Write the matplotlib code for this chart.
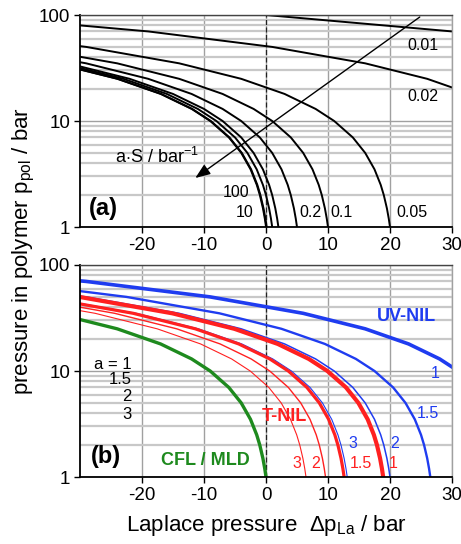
import matplotlib
matplotlib.use("Agg")
import matplotlib.pyplot as plt
from matplotlib.ticker import FixedLocator, FixedFormatter, NullFormatter, LogLocator

plt.rcParams['font.family'] = ['Liberation Sans', 'DejaVu Sans']
plt.rcParams['mathtext.fontset'] = 'custom'
plt.rcParams['mathtext.rm'] = 'Liberation Sans'
plt.rcParams['mathtext.it'] = 'Liberation Sans:italic'
plt.rcParams['axes.unicode_minus'] = False

# ---------------- data ----------------
X_TICKS = [-20, -10, 0, 10, 20, 30]
Y_TICKS = [1, 10, 100]
Y_TICK_LABELS = ["1", "10", "100"]

# panel (a): curves for a.S / bar^-1
A_LABELS = ["0.01", "0.02", "0.05", "0.1", "0.2", "0.5", "1", "10", "100"]
A_DP = [
    [-30, 0, 30],
    [-49, -19, 1, 16, 26, 33],
    [-49, -29, -14, -4, 3, 8, 11, 14, 16, 17.5, 18.5, 19, 19.5, 19.8, 20],
    [-39, -24, -14, -7, -2, 1, 4, 6, 7.5, 8.5, 9, 9.5, 9.8, 10],
    [-44, -29, -19, -12, -7, -4, -1, 1, 2.5, 3.5, 4, 4.5, 4.8, 5],
    [-47, -32, -22, -15, -10, -7, -4, -2, -0.5, 0.5, 1, 1.5, 1.8, 2],
    [-48, -33, -23, -16, -11, -8, -5, -3, -1.5, -0.5, 0, 0.5, 0.8, 1],
    [-48.9, -33.9, -23.9, -16.9, -11.9, -8.9, -5.9, -3.9, -2.4, -1.4, -0.9, -0.4, -0.1, 0.1],
    [-48.99, -33.99, -23.99, -16.99, -11.99, -8.99, -5.99, -3.99, -2.49, -1.49, -0.99, -0.49, -0.19, 0.01],
]
A_P = [
    [130, 100, 70],
    [100, 70, 50, 35, 25, 18],
    [70, 50, 35, 25, 18, 13, 10, 7, 5, 3.5, 2.5, 2, 1.5, 1.2, 1],
    [50, 35, 25, 18, 13, 10, 7, 5, 3.5, 2.5, 2, 1.5, 1.2, 1],
    [50, 35, 25, 18, 13, 10, 7, 5, 3.5, 2.5, 2, 1.5, 1.2, 1],
    [50, 35, 25, 18, 13, 10, 7, 5, 3.5, 2.5, 2, 1.5, 1.2, 1],
    [50, 35, 25, 18, 13, 10, 7, 5, 3.5, 2.5, 2, 1.5, 1.2, 1],
    [50, 35, 25, 18, 13, 10, 7, 5, 3.5, 2.5, 2, 1.5, 1.2, 1],
    [50, 35, 25, 18, 13, 10, 7, 5, 3.5, 2.5, 2, 1.5, 1.2, 1],
]

# panel (b): CFL / MLD
CFL_DP = [-49, -34, -24, -17, -12, -9, -6, -4, -2.5, -1.5, -1, -0.5, -0.2, 0]
CFL_P = [50, 35, 25, 18, 13, 10, 7, 5, 3.5, 2.5, 2, 1.5, 1.2, 1]

# panel (b): UV-NIL, a = 1, 1.5, 2, 3
A_VALUES = ["1", "1.5", "2", "3"]
UV_DP = [
    [-59, -29, -9, 6, 16, 23, 28, 31],
    [-42.5, -22.5, -7.5, 2.5, 9.5, 14.5, 17.5, 20.5, 22.5, 24, 25, 25.5, 26, 26.3, 26.5],
    [-49, -29, -14, -4, 3, 8, 11, 14, 16, 17.5, 18.5, 19, 19.5, 19.8, 20],
    [-35.9, -20.9, -10.9, -3.9, 1.1, 4.1, 7.1, 9.1, 10.6, 11.6, 12.1, 12.6, 12.9, 13.1],
]
UV_P = [
    [100, 70, 50, 35, 25, 18, 13, 10],
    [70, 50, 35, 25, 18, 13, 10, 7, 5, 3.5, 2.5, 2, 1.5, 1.2, 1],
    [70, 50, 35, 25, 18, 13, 10, 7, 5, 3.5, 2.5, 2, 1.5, 1.2, 1],
    [50, 35, 25, 18, 13, 10, 7, 5, 3.5, 2.5, 2, 1.5, 1.2, 1],
]

# panel (b): T-NIL, a = 1, 1.5, 2, 3
TNIL_DP = [
    [-50.1, -30.1, -15.1, -5.1, 1.9, 6.9, 9.9, 12.9, 14.9, 16.4, 17.4, 17.9, 18.4, 18.7, 18.9],
    [-36.4, -21.4, -11.4, -4.4, 0.6, 3.6, 6.6, 8.6, 10.1, 11.1, 11.6, 12.1, 12.4, 12.6],
    [-39.4, -24.4, -14.4, -7.4, -2.4, 0.6, 3.6, 5.6, 7.1, 8.1, 8.6, 9.1, 9.4, 9.6],
    [-42.55, -27.55, -17.55, -10.55, -5.55, -2.55, 0.45, 2.45, 3.95, 4.95, 5.45, 5.95, 6.25, 6.45],
]
TNIL_P = [
    [70, 50, 35, 25, 18, 13, 10, 7, 5, 3.5, 2.5, 2, 1.5, 1.2, 1],
    [50, 35, 25, 18, 13, 10, 7, 5, 3.5, 2.5, 2, 1.5, 1.2, 1],
    [50, 35, 25, 18, 13, 10, 7, 5, 3.5, 2.5, 2, 1.5, 1.2, 1],
    [50, 35, 25, 18, 13, 10, 7, 5, 3.5, 2.5, 2, 1.5, 1.2, 1],
]

# ---------------- styles ----------------
BLUE = '#1f3cf0'
RED = '#ff2020'
GREEN = '#1e8a1e'
UV_LW = [2.6, 1.7, 1.1, 0.8]
TNIL_LW = [3.0, 2.3, 1.0, 0.8]

fig = plt.figure(figsize=(4.61, 5.44), dpi=100)
ax_a = fig.add_axes([80 / 461, 1 - 227 / 544, 372 / 461, 212 / 544])
ax_b = fig.add_axes([80 / 461, 1 - 477 / 544, 372 / 461, 212 / 544])


def style_axes(ax):
    ax.set_yscale('log')
    ax.set_xlim(-30, 30)
    ax.set_ylim(1, 100)
    ax.set_axisbelow(True)
    ax.xaxis.set_major_locator(FixedLocator(X_TICKS))
    ax.yaxis.set_major_locator(FixedLocator(Y_TICKS))
    ax.yaxis.set_major_formatter(FixedFormatter(Y_TICK_LABELS))
    ax.yaxis.set_minor_locator(LogLocator(base=10, subs=[2, 3, 4, 5, 6, 7, 8, 9]))
    ax.yaxis.set_minor_formatter(NullFormatter())
    ax.tick_params(which='major', direction='out', length=4, width=1,
                   labelsize=13.5, color='black', pad=3)
    ax.tick_params(which='minor', length=0)
    ax.grid(which='minor', axis='y', color='#c8c8c8', lw=1.6)
    ax.grid(which='major', axis='y', color='#a0a0a0', lw=1.0)
    ax.grid(which='major', axis='x', color='#a0a0a0', lw=1.0)
    ax.axvline(0, color='#222222', lw=0.9, ls=(0, (4, 2)), zorder=1.5)
    for s in ['left', 'bottom']:
        ax.spines[s].set_color('black')
        ax.spines[s].set_linewidth(1.3)
    ax.spines['top'].set_color('#444444')
    ax.spines['top'].set_linewidth(1.0)
    ax.spines['right'].set_color('#a0a0a0')
    ax.spines['right'].set_linewidth(1.0)


style_axes(ax_a)
style_axes(ax_b)

# ---- panel (a)
for dp, p in zip(A_DP, A_P):
    ax_a.plot(dp, p, color='black', lw=1.4, solid_capstyle='butt')

txt = dict(fontsize=11.5, color='black', ha='center', va='center')
ax_a.text(25.3, 52, A_LABELS[0], **txt)
ax_a.text(25.3, 17.2, A_LABELS[1], **txt)
ax_a.text(23.5, 1.36, A_LABELS[2], **txt)
ax_a.text(12.1, 1.36, A_LABELS[3], **txt)
ax_a.text(7.1, 1.36, A_LABELS[4], **txt)
ax_a.text(-3.5, 1.36, A_LABELS[7], **txt)
ax_a.text(-4.9, 2.11, A_LABELS[8], **txt)
ax_a.text(-24.4, 4.57, r'a$\cdot$S / bar$^{\mathrm{-1}}$', fontsize=13,
          ha='left', va='center')
ax_a.text(-26.3, 1.5, '(a)', fontsize=17, fontweight='bold', ha='center', va='center')
ax_a.annotate('', xy=(-11.4, 2.9), xytext=(24.8, 95.7),
              arrowprops=dict(arrowstyle='-|>,head_length=0.9,head_width=0.35',
                              color='black', lw=1.0, shrinkA=0, shrinkB=0))

# ---- panel (b)
for dp, p, lw in zip(UV_DP, UV_P, UV_LW):
    ax_b.plot(dp, p, color=BLUE, lw=lw)
for dp, p, lw in zip(TNIL_DP, TNIL_P, TNIL_LW):
    ax_b.plot(dp, p, color=RED, lw=lw)
ax_b.plot(CFL_DP, CFL_P, color=GREEN, lw=2.4)

ax_b.text(22.7, 32.5, 'UV-NIL', fontsize=13, fontweight='bold', color=BLUE,
          ha='center', va='center')
ax_b.text(3.0, 3.76, 'T-NIL', fontsize=13, fontweight='bold', color=RED,
          ha='center', va='center')
ax_b.text(-9.7, 1.44, 'CFL / MLD', fontsize=13, fontweight='bold', color=GREEN,
          ha='center', va='center')
ax_b.text(-25.8, 1.55, '(b)', fontsize=17, fontweight='bold', ha='center', va='center')

bl = dict(fontsize=11.5, color=BLUE, ha='center', va='center')
ax_b.text(27.3, 9.37, A_VALUES[0], **bl)
ax_b.text(26.1, 3.93, A_VALUES[1], **bl)
ax_b.text(20.8, 2.09, A_VALUES[2], **bl)
ax_b.text(14.0, 2.09, A_VALUES[3], **bl)

rd = dict(fontsize=11.5, color=RED, ha='center', va='center')
ax_b.text(20.5, 1.33, A_VALUES[0], **rd)
ax_b.text(15.3, 1.33, A_VALUES[1], **rd)
ax_b.text(8.06, 1.33, A_VALUES[2], **rd)
ax_b.text(4.95, 1.33, A_VALUES[3], **rd)

lk = dict(fontsize=12, color='black', ha='right', va='center')
ax_b.text(-21.7, 11.6, 'a = ' + A_VALUES[0], **lk)
ax_b.text(-21.7, 8.4, A_VALUES[1], **lk)
ax_b.text(-21.7, 5.72, A_VALUES[2], **lk)
ax_b.text(-21.7, 3.9, A_VALUES[3], **lk)

fig.text(24 / 461, 1 - 251 / 544, r'pressure in polymer p$_{\mathrm{pol}}$ / bar',
         fontsize=16, rotation=90, ha='center', va='center')
fig.text(266 / 461, 1 - 525 / 544, r'Laplace pressure  Δp$_{\mathrm{La}}$ / bar',
         fontsize=16, ha='center', va='center')

fig.savefig('out.png', dpi=100)
